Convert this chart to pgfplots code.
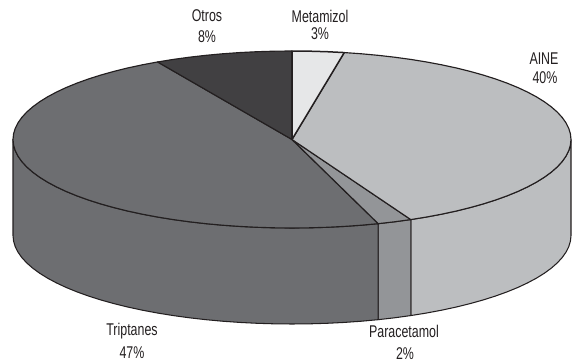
\documentclass[border=0pt]{standalone}
\usepackage{pgfplots}
\usepackage{fontspec}
\setmainfont[FakeStretch=0.73]{Liberation Sans}
\pgfplotsset{compat=1.18}
\definecolor{metamizol}{HTML}{E6E7E8}
\definecolor{aine}{HTML}{BCBEC0}
\definecolor{paracetamol}{HTML}{939598}
\definecolor{triptanes}{HTML}{6D6E71}
\definecolor{otros}{HTML}{414042}
\definecolor{ink}{HTML}{231F20}
% Slice outlines are given as cumulative percent p around the pie, clockwise from the top.
% r is the distance from the centre on the top face, d the drop along the rim wall.
\pgfplotsset{
  topface/.style={draw=ink,line width=1.15pt,line join=round},
  wall/.style={draw=ink,line width=1.05pt,line join=round},
}
\newcommand{\topx}{292+279*\thisrow{r}*sin(3.6*\thisrow{p})}
\newcommand{\topy}{139.5-88.5*\thisrow{r}*cos(3.6*\thisrow{p})}
\newcommand{\wallx}{292+279*sin(3.6*\thisrow{p})}
\newcommand{\wally}{139.5-88.5*cos(3.6*\thisrow{p})+96*\thisrow{d}}
\newcommand{\lab}[3]{\node[text=ink,inner sep=0pt,anchor=center] at (axis cs:#1,#2) {\fontsize{17}{20}\selectfont #3};}
\begin{document}
\begin{tikzpicture}
\begin{axis}[
  scale only axis,width=574pt,height=364pt,
  xmin=0,xmax=574,ymin=0,ymax=364,y dir=reverse,
  hide axis,clip=false,
]
% keeps the page at the full drawing area
\path (axis cs:0,0) rectangle (axis cs:574,364);
% rim wall: AINE
\addplot[wall,fill=aine] table[x expr=\wallx,y expr=\wally] {
p d
25 0
26 0
27 0
28 0
29 0
30 0
31 0
32 0
33 0
34 0
35 0
36 0
37 0
38 0
39 0
40 0
41 0
42 0
43 0
43 1
42 1
41 1
40 1
39 1
38 1
37 1
36 1
35 1
34 1
33 1
32 1
31 1
30 1
29 1
28 1
27 1
26 1
25 1
25 0
};
% rim wall: Paracetamol
\addplot[wall,fill=paracetamol] table[x expr=\wallx,y expr=\wally] {
p d
43 0
44 0
45 0
45 1
44 1
43 1
43 0
};
% rim wall: Triptanes
\addplot[wall,fill=triptanes] table[x expr=\wallx,y expr=\wally] {
p d
45 0
46 0
47 0
48 0
49 0
50 0
51 0
52 0
53 0
54 0
55 0
56 0
57 0
58 0
59 0
60 0
61 0
62 0
63 0
64 0
65 0
66 0
67 0
68 0
69 0
70 0
71 0
72 0
73 0
74 0
75 0
75 1
74 1
73 1
72 1
71 1
70 1
69 1
68 1
67 1
66 1
65 1
64 1
63 1
62 1
61 1
60 1
59 1
58 1
57 1
56 1
55 1
54 1
53 1
52 1
51 1
50 1
49 1
48 1
47 1
46 1
45 1
45 0
};
% top face: Triptanes, 47 %
\addplot[topface,fill=triptanes] table[x expr=\topx,y expr=\topy] {
p r
45 0
45 1
46 1
47 1
48 1
49 1
50 1
51 1
52 1
53 1
54 1
55 1
56 1
57 1
58 1
59 1
60 1
61 1
62 1
63 1
64 1
65 1
66 1
67 1
68 1
69 1
70 1
71 1
72 1
73 1
74 1
75 1
76 1
77 1
78 1
79 1
80 1
81 1
82 1
83 1
84 1
85 1
86 1
87 1
88 1
89 1
90 1
91 1
92 1
92 0
45 0
};
% top face: Otros, 8 %
\addplot[topface,fill=otros] table[x expr=\topx,y expr=\topy] {
p r
92 0
92 1
93 1
94 1
95 1
96 1
97 1
98 1
99 1
100 1
100 0
92 0
};
% top face: Paracetamol, 2 %
\addplot[topface,fill=paracetamol] table[x expr=\topx,y expr=\topy] {
p r
43 0
43 1
44 1
45 1
45 0
43 0
};
% top face: AINE, 40 %
\addplot[topface,fill=aine] table[x expr=\topx,y expr=\topy] {
p r
3 0
3 1
4 1
5 1
6 1
7 1
8 1
9 1
10 1
11 1
12 1
13 1
14 1
15 1
16 1
17 1
18 1
19 1
20 1
21 1
22 1
23 1
24 1
25 1
26 1
27 1
28 1
29 1
30 1
31 1
32 1
33 1
34 1
35 1
36 1
37 1
38 1
39 1
40 1
41 1
42 1
43 1
43 0
3 0
};
% top face: Metamizol, 3 %
\addplot[topface,fill=metamizol,line width=1.5pt] table[x expr=\topx,y expr=\topy] {
p r
0 0
0 1
1 1
2 1
3 1
3 0
0 0
};
% slice labels
\lab{207}{16}{Otros}
\lab{207}{37}{8\%}
\lab{320}{16}{Metamizol}
\lab{320}{34}{3\%}
\lab{544}{59}{AINE}
\lab{545}{78}{40\%}
\lab{132}{331}{Triptanes}
\lab{132}{353}{47\%}
\lab{404}{331}{Paracetamol}
\lab{405}{354}{2\%}
\end{axis}
\end{tikzpicture}
\end{document}
